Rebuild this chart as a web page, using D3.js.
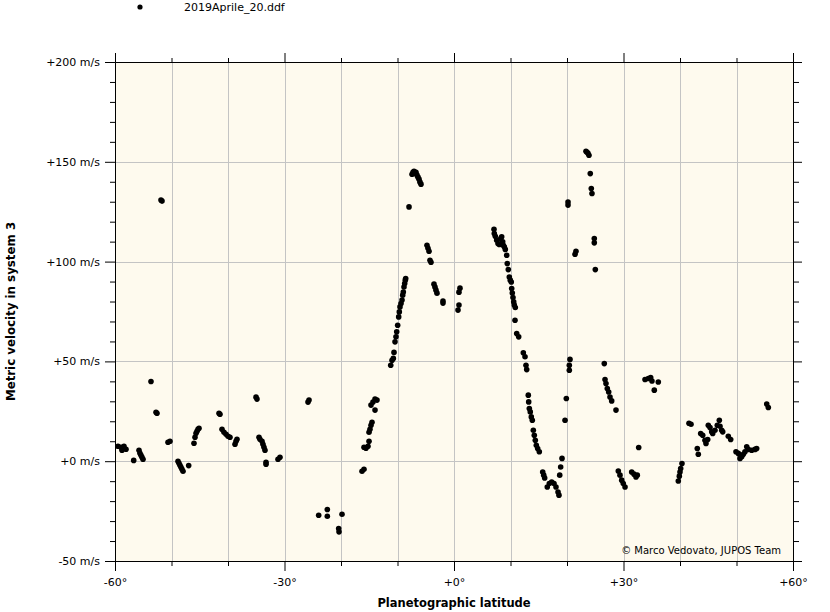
<!DOCTYPE html>
<html><head><meta charset="utf-8">
<script src="https://cdn.jsdelivr.net/npm/d3@7"></script>
<style>body{margin:0;background:#fff;}text{font-family:"DejaVu Sans",sans-serif;}</style>
</head><body><svg id="c" width="830" height="612"></svg>
<script>
const seriesName = "2019Aprile_20.ddf";
const xTitle = "Planetographic latitude";
const yTitle = "Metric velocity in system 3";
const credit = "© Marco Vedovato, JUPOS Team";
const xMajorTicks = [-60, -30, 0, 30, 60];
const xMinorTicks = [-50, -40, -20, -10, 10, 20, 40, 50];
const yMajorTicks = [-50, 0, 50, 100, 150, 200];
const yMinorTicks = [-40,-30,-20,-10,10,20,30,40,60,70,80,90,110,120,130,140,160,170,180,190];
const latitude = [-59.47,-58.94,-58.41,-58.05,-58.76,-56.69,-55.75,-55.58,-55.40,-55.22,-55.04,-53.63,-52.74,-52.57,-51.86,-51.68,-50.62,-50.27,-48.85,-48.67,-48.50,-48.32,-48.14,-47.96,-46.96,-46.02,-45.84,-45.66,-45.49,-45.31,-45.13,-41.59,-41.42,-41.06,-40.71,-40.35,-40.00,-39.65,-38.76,-38.58,-38.41,-35.04,-34.87,-34.51,-34.34,-33.98,-33.81,-33.63,-33.45,-33.27,-33.27,-31.15,-30.80,-25.84,-25.66,-23.95,-22.42,-22.42,-19.82,-20.41,-20.35,-16.28,-15.93,-15.93,-15.58,-15.22,-15.04,-15.04,-14.87,-14.69,-14.51,-14.69,-14.34,-13.98,-13.63,-13.98,
-11.20,-10.97,-10.74,-10.62,-10.44,-10.27,-10.14,-9.97,-9.79,-9.68,-9.56,-9.38,-9.20,-9.08,-8.97,-8.85,-8.73,-8.62,-8.55,-7.96,-7.43,-7.26,-7.08,-6.90,-6.73,-6.55,-6.37,-6.19,-6.02,-5.84,-4.78,-4.60,-4.42,-4.25,-4.07,-3.54,-3.36,-3.19,-3.01,-1.95,-1.95,1.06,0.88,0.88,0.71,
7.08,7.13,7.31,7.56,7.79,8.02,8.27,8.44,8.62,8.73,8.90,9.08,9.33,9.43,9.61,9.79,9.96,10.14,10.21,10.32,10.44,10.57,10.67,10.85,10.80,11.10,11.45,12.27,12.57,12.74,12.87,13.15,13.22,13.33,13.50,13.68,13.86,14.04,14.21,14.39,14.57,14.81,15.10,15.70,15.88,16.05,16.51,16.87,17.29,17.70,18.05,18.41,18.58,18.71,18.88,19.12,19.65,19.88,20.41,20.41,20.53,20.18,20.18,21.42,21.59,23.36,23.54,23.72,23.89,24.12,24.30,24.42,24.83,24.83,25.01,
26.60,26.73,26.90,27.13,27.38,27.61,27.91,28.67,29.08,29.38,29.68,29.96,30.27,31.45,31.86,32.21,32.44,32.69,33.81,34.39,34.81,35.04,35.45,36.16,41.59,41.95,40.35,40.12,40.00,39.88,39.70,43.06,43.24,43.66,44.02,44.42,44.60,44.90,45.01,45.31,45.61,45.79,46.19,46.60,46.96,47.08,47.38,47.56,48.55,48.97,49.91,50.32,50.62,50.92,51.20,51.50,51.81,52.09,52.69,53.27,53.57,55.35,55.63];
const velocity = [7.5,7.0,7.5,6.0,5.5,0.4,5.5,4.0,3.0,2.0,1.0,39.9,24.5,24.0,130.8,130.3,9.5,10.0,0.0,-1.0,-2.0,-3.0,-4.0,-5.0,-2.2,9.0,12.0,14.0,15.0,16.0,16.5,24.0,23.5,16.0,14.5,13.5,12.5,12.0,8.5,10.0,11.0,32.1,31.1,12.0,11.0,10.0,8.5,7.0,5.5,-0.5,-1.5,1.0,2.0,29.6,30.6,-27.1,-24.2,-27.6,-26.6,-33.7,-35.4,-5.0,-4.0,7.0,6.5,7.5,10.0,14.5,16.0,18.0,19.5,28.1,29.6,31.1,30.6,25.6,
48.1,50.6,51.5,54.5,59.8,62.3,64.8,68.1,72.3,74.8,77.3,79.0,80.7,83.2,84.8,87.3,89.0,90.7,91.5,127.4,143.8,144.8,145.3,144.3,144.8,143.3,142.3,141.3,139.8,138.8,108.2,106.7,105.2,100.7,99.7,88.7,87.2,85.7,84.2,80.2,79.2,86.7,84.7,78.2,75.7,
116.2,114.1,112.7,110.7,109.1,108.6,111.6,112.4,109.9,108.2,107.4,106.1,103.2,99.0,96.0,92.3,90.7,89.8,86.5,84.3,82.0,79.8,78.2,77.0,70.6,64.0,62.3,54.3,52.3,48.1,45.9,33.1,29.7,26.4,24.7,22.2,20.5,15.5,13.0,10.5,8.0,6.4,4.7,-5.4,-7.0,-8.4,-12.9,-11.2,-10.4,-11.2,-12.9,-15.4,-17.0,-7.0,-2.9,1.4,20.5,31.4,45.6,48.1,51.0,129.8,128.3,103.7,105.2,155.3,154.8,154.3,153.3,144.1,136.6,134.1,111.6,109.4,96.0,
48.9,40.9,38.9,36.4,34.7,32.2,30.2,25.6,-4.9,-7.0,-9.5,-11.2,-12.9,-5.4,-6.5,-7.9,-7.0,6.9,40.9,41.4,41.9,40.2,35.6,39.7,19.0,18.5,-1.2,-3.7,-5.4,-7.5,-9.9,6.4,3.5,13.9,13.0,10.5,8.9,10.9,18.0,16.9,14.7,13.9,15.5,18.0,20.5,17.5,15.5,14.7,12.5,10.9,4.7,3.9,1.4,2.2,3.5,4.7,7.2,5.9,5.5,5.9,6.4,28.6,26.9];

const svg = d3.select("#c");
const L = 115, R = 793, T = 62, B = 561;
const x = d3.scaleLinear().domain([-60, 60]).range([L, R]);
const y = d3.scaleLinear().domain([-50, 200]).range([B, T]);

svg.append("rect").attr("x", L).attr("y", T).attr("width", R - L).attr("height", B - T).attr("fill", "#fefaee");

const grid = svg.append("g").attr("stroke", "#c4c4c4").attr("stroke-width", 1);
xMajorTicks.concat(xMinorTicks).forEach(v => {
  if (v === -60 || v === 60) return;
  grid.append("line").attr("x1", Math.round(x(v)) + 0.5).attr("x2", Math.round(x(v)) + 0.5).attr("y1", T).attr("y2", B);
});
yMajorTicks.forEach(v => {
  if (v === -50 || v === 200) return;
  grid.append("line").attr("y1", Math.round(y(v)) + 0.5).attr("y2", Math.round(y(v)) + 0.5).attr("x1", L).attr("x2", R);
});

const fmtX = d => (d < 0 ? "-" + Math.abs(d) : "+" + d) + "°";
const fmtY = d => (d < 0 ? "-" + Math.abs(d) : "+" + d) + " m/s";

function styleAxis(g) {
  g.selectAll("path,line").attr("stroke", "#000");
  g.selectAll("text").attr("fill", "#000").style("font-family", "DejaVu Sans").style("font-size", "11px");
}
svg.append("g").attr("transform", `translate(0,${B})`)
  .call(d3.axisBottom(x).tickValues(xMajorTicks).tickFormat(fmtX).tickSize(10).tickPadding(7).tickSizeOuter(0)).call(styleAxis);
svg.append("g").attr("transform", `translate(0,${B})`)
  .call(d3.axisBottom(x).tickValues(xMinorTicks).tickFormat("").tickSize(5).tickSizeOuter(0)).call(styleAxis);
svg.append("g").attr("transform", `translate(0,${T})`)
  .call(d3.axisTop(x).tickValues(xMajorTicks).tickFormat("").tickSize(9).tickSizeOuter(0)).call(styleAxis);
svg.append("g").attr("transform", `translate(0,${T})`)
  .call(d3.axisTop(x).tickValues(xMinorTicks).tickFormat("").tickSize(4).tickSizeOuter(0)).call(styleAxis);
svg.append("g").attr("transform", `translate(${L},0)`)
  .call(d3.axisLeft(y).tickValues(yMajorTicks).tickFormat(fmtY).tickSize(10).tickPadding(5).tickSizeOuter(0)).call(styleAxis);
svg.append("g").attr("transform", `translate(${L},0)`)
  .call(d3.axisLeft(y).tickValues(yMinorTicks).tickFormat("").tickSize(5).tickSizeOuter(0)).call(styleAxis);
svg.append("g").attr("transform", `translate(${R},0)`)
  .call(d3.axisRight(y).tickValues(yMajorTicks).tickFormat("").tickSize(9).tickSizeOuter(0)).call(styleAxis);
svg.append("g").attr("transform", `translate(${R},0)`)
  .call(d3.axisRight(y).tickValues(yMinorTicks).tickFormat("").tickSize(6).tickSizeOuter(0)).call(styleAxis);

const pts = latitude.map((d, i) => ({lat: d, v: velocity[i]}));
svg.append("g").selectAll("circle").data(pts).join("circle")
  .attr("cx", d => x(d.lat)).attr("cy", d => y(d.v)).attr("r", 2.8).attr("fill", "#000");

svg.append("text").attr("x", R - 12).attr("y", 554).attr("text-anchor", "end")
  .style("font-size", "10px").attr("fill", "#000").text(credit);

svg.append("circle").attr("cx", 140).attr("cy", 7).attr("r", 2.6).attr("fill", "#000");
svg.append("text").attr("x", 184).attr("y", 11).style("font-size", "11px").attr("fill", "#000").text(seriesName);

svg.append("text").attr("x", (L + R) / 2).attr("y", 607).attr("text-anchor", "middle")
  .style("font-size", "11.5px").style("font-weight", "bold").attr("fill", "#000").text(xTitle);
svg.append("text").attr("transform", `translate(15,${(T + B) / 2}) rotate(-90)`).attr("text-anchor", "middle")
  .style("font-size", "11.8px").style("font-weight", "bold").attr("fill", "#000").text(yTitle);
</script></body></html>
